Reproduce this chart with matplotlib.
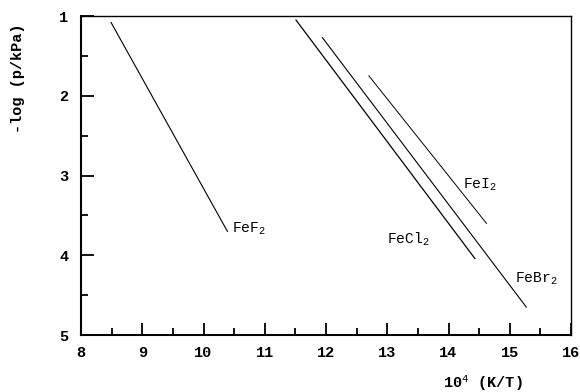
import matplotlib
matplotlib.use('Agg')
import matplotlib.pyplot as plt
from matplotlib.ticker import MultipleLocator

# endpoints of each fitted line: (1e4/T, -log p)
compounds = ['FeF2', 'FeCl2', 'FeBr2', 'FeI2']
x_start = [8.49, 11.51, 11.94, 12.70]
y_start = [1.08, 1.05, 1.27, 1.75]
x_end = [10.39, 14.43, 15.27, 14.62]
y_end = [3.70, 4.04, 4.65, 3.60]
line_widths = [0.8, 0.9, 0.8, 0.7]

# text labels
label_x = [10.47, 12.99, 15.09, 14.24]
label_y = [3.67, 3.80, 4.30, 3.12]
label_text = ['FeF$_{2}$', 'FeCl$_{2}$', 'FeBr$_{2}$', 'FeI$_{2}$']

mono = 'Liberation Mono'
plt.rcParams['mathtext.fontset'] = 'custom'
plt.rcParams['mathtext.rm'] = mono
plt.rcParams['mathtext.it'] = mono

fig = plt.figure(figsize=(5.8, 3.92), dpi=100)
ax = fig.add_axes([0.1397, 0.1454, 0.9845 - 0.1397, 0.959 - 0.1454])

for i in range(len(compounds)):
    ax.plot([x_start[i], x_end[i]], [y_start[i], y_end[i]],
            color='black', lw=line_widths[i])

for lx, ly, txt in zip(label_x, label_y, label_text):
    ax.text(lx, ly, txt, family=mono, fontsize=10.5, ha='left', va='center')

ax.set_xlim(8, 16)
ax.set_ylim(5, 1)
ax.xaxis.set_major_locator(MultipleLocator(1))
ax.xaxis.set_minor_locator(MultipleLocator(0.5))
ax.yaxis.set_major_locator(MultipleLocator(1))
ax.yaxis.set_minor_locator(MultipleLocator(0.5))
ax.tick_params(which='both', direction='in', width=1.3, labelsize=11)
ax.tick_params(axis='x', pad=8)
ax.tick_params(axis='y', pad=9)
ax.tick_params(which='major', length=9)
ax.tick_params(which='minor', length=5)
for lab in ax.get_xticklabels() + ax.get_yticklabels():
    lab.set_family(mono)
    lab.set_fontweight('bold')
ax.get_xticklabels()[-1].set_horizontalalignment('right')

for side in ['left', 'bottom']:
    ax.spines[side].set_linewidth(1.5)
for side in ['top', 'right']:
    ax.spines[side].set_linewidth(1.0)

fig.text(18 / 580, 1 - 78 / 392, '-log (p/kPa)', rotation=90, family=mono,
         fontweight='bold', fontsize=11, ha='center', va='center')
fig.text(483 / 580, 1 - 383 / 392, '10$^{4}$ (K/T)', family=mono,
         fontweight='bold', fontsize=11, ha='center', va='center')

fig.savefig('out.png', dpi=100)
